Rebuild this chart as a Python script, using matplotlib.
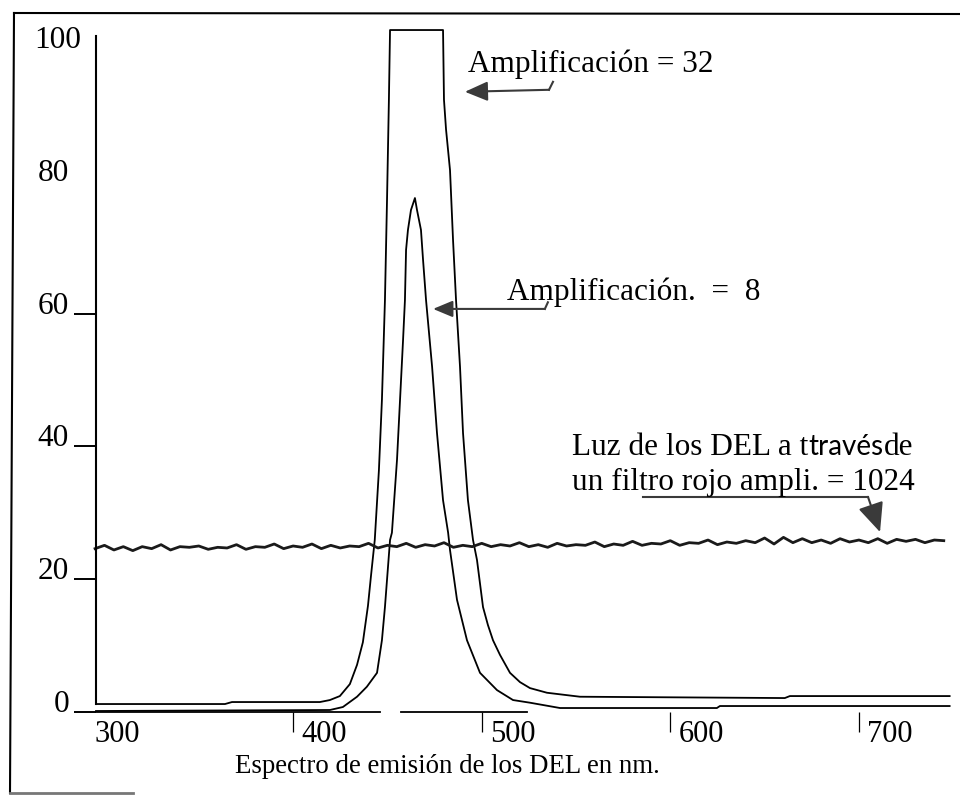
import matplotlib
matplotlib.use("Agg")
import matplotlib.pyplot as plt
from matplotlib.lines import Line2D
from matplotlib.transforms import ScaledTranslation
import numpy as np

# ---------------- data ----------------
wl_amp32 = [295.5, 363.9, 367.6, 414.2, 419.5, 424.8, 430.1, 433.9, 437.0, 439.7,
            441.3, 443.3, 445.5, 447.1, 448.7, 449.8, 450.8, 451.4, 479.5, 480.0,
            481.1, 483.2, 484.8, 486.4, 488.5, 490.1, 492.7, 495.4, 497.5, 500.7,
            503.3, 506.0, 509.7, 515.0, 520.3, 525.6, 534.6, 552.1, 660.7, 663.4, 748.1]
val_amp32 = [1.2, 1.2, 1.5, 1.5, 1.8, 2.4, 4.2, 7.1, 10.5, 16.0,
             20.5, 25.9, 36.4, 47.0, 62.0, 77.1, 92.2, 102.7, 102.7, 92.2,
             87.7, 81.6, 71.1, 62.0, 52.0, 42.0, 31.9, 25.9, 22.9, 15.8,
             13.1, 10.8, 8.6, 5.9, 4.5, 3.6, 2.9, 2.3, 2.1, 2.4, 2.4]

wl_amp8 = [295.5, 419.5, 426.4, 433.9, 439.1, 444.5, 447.1, 448.7, 451.4, 452.4,
           455.1, 456.7, 458.3, 459.3, 459.9, 460.9, 462.5, 464.6, 465.7, 467.8,
           468.9, 470.5, 473.7, 476.3, 479.5, 482.2, 483.2, 486.9, 492.2, 499.1,
           508.1, 516.6, 525.6, 541.5, 624.7, 626.3, 748.1]
val_amp8 = [0.15, 0.3, 0.75, 2.3, 3.8, 5.9, 10.8, 15.8, 25.9, 27.0,
            38.0, 47.0, 56.0, 62.0, 69.6, 72.6, 75.6, 77.4, 75.6, 72.6,
            68.1, 62.0, 52.0, 42.0, 31.9, 27.0, 24.4, 16.9, 10.8, 5.9,
            3.3, 1.8, 1.4, 0.6, 0.6, 0.9, 0.9]

wl_red = np.arange(295, 746, 5)
val_red = [24.6, 25.1, 24.4, 24.9, 24.3, 24.9, 24.6, 25.2, 24.4, 24.9,
           24.8, 25.0, 24.5, 24.8, 24.7, 25.2, 24.5, 24.9, 24.8, 25.3,
           24.6, 25.0, 24.8, 25.3, 24.6, 25.1, 24.7, 25.0, 24.9, 25.4,
           24.7, 25.1, 24.9, 25.4, 24.8, 25.2, 25.0, 25.5, 24.8, 25.1,
           24.9, 25.4, 24.9, 25.2, 25.0, 25.5, 24.9, 25.2, 24.8, 25.4,
           25.0, 25.2, 25.1, 25.6, 24.9, 25.3, 25.1, 25.7, 25.1, 25.4,
           25.3, 25.8, 25.1, 25.5, 25.4, 25.9, 25.2, 25.6, 25.4, 25.8,
           25.5, 26.2, 25.3, 26.3, 25.5, 26.1, 25.5, 25.9, 25.4, 26.1,
           25.6, 25.9, 25.5, 26.1, 25.4, 26.0, 25.7, 26.0, 25.5, 25.9,
           25.8]

xticks = [300, 400, 500, 600, 700]
xtick_labels = ["300", "400", "500", "600", "700"]
yticks = [0, 20, 40, 60, 80, 100]
ytick_labels = ["0", "20", "40", "60", "80", "100"]

label_amp32 = "Amplificación = 32"
label_amp8 = "Amplificación.  =  8"
label_red_1a = "Luz de los DEL a t"
label_red_1b = "través"
label_red_1c = "de"
label_red_2 = "un filtro rojo ampli. = 1024"
xlabel = "Espectro de emisión de los DEL en nm."

# ---------------- figure ----------------
SERIF = ["Liberation Serif", "DejaVu Serif"]
W, H = 960, 795
fig = plt.figure(figsize=(W / 100, H / 100), dpi=100)
fig.patch.set_facecolor("white")

ax = fig.add_axes([96 / W, (H - 712) / H, (W - 96) / W, 690.6 / H])
ax.set_xlim(295.5, 753.6)
ax.set_ylim(0, 104)
ax.set_facecolor("none")
for s in ["top", "right", "bottom"]:
    ax.spines[s].set_visible(False)
ax.spines["left"].set_bounds(1.2, 101.8)
ax.spines["left"].set_linewidth(1.5)

# curves
ax.plot(wl_amp32, val_amp32, color="black", lw=1.3, clip_on=False)
ax.plot(wl_amp8, val_amp8, color="black", lw=1.3, clip_on=False)
ax.plot(wl_red, val_red, color="#1a1a1a", lw=2.0, clip_on=False)

# x axis line (drawn in two pieces as in the original)
ax.plot([295.5, 446.0], [0, 0], color="black", lw=1.3, clip_on=False)
ax.plot([457.0, 524.0], [0, 0], color="black", lw=1.3, clip_on=False)

# y ticks
ax.set_yticks(yticks)
ax.set_yticklabels(ytick_labels, fontsize=22.5, family=SERIF)
ax.tick_params(axis="y", direction="out", length=15.8, width=1.4, pad=3.6)
for lab in ax.get_yticklabels():
    lab.set_va("baseline")
yt = ax.yaxis.get_major_ticks()
yt[4].tick1line.set_visible(False)
yt[5].tick1line.set_visible(False)
lab100 = ax.get_yticklabels()[5]
lab100.set_transform(lab100.get_transform() + ScaledTranslation(12 / 100, 0, fig.dpi_scale_trans))

# x ticks
ax.set_xticks(xticks)
ax.set_xticklabels(xtick_labels, fontsize=22, family=SERIF)
ax.tick_params(axis="x", direction="out", length=14.4, width=0.9, pad=-8.6)
xt = ax.xaxis.get_major_ticks()
xt[0].tick1line.set_visible(False)
for i, lab in enumerate(ax.get_xticklabels()):
    lab.set_ha("left")
    dx = -10 if i == 0 else 8
    lab.set_transform(lab.get_transform() + ScaledTranslation(dx / 100, 0, fig.dpi_scale_trans))

# annotations
ARROW_C = "#3a3a3a"
TXT = dict(fontsize=22.5, family=SERIF, va="baseline", ha="left", color="black")

ax.text(492.7, 96.4, label_amp32, **TXT)
ax.annotate("", xy=(491.1, 93.4), xytext=(535.7, 93.7),
            arrowprops=dict(arrowstyle="-|>,head_length=0.7,head_width=0.3",
                            color=ARROW_C, lw=1.5, mutation_scale=20,
                            shrinkA=0, shrinkB=0))
ax.plot([535.7, 537.8], [93.7, 94.9], color=ARROW_C, lw=1.5)

ax.text(513.4, 62.0, label_amp8, **TXT)
ax.annotate("", xy=(474.2, 60.7), xytext=(533.5, 60.7),
            arrowprops=dict(arrowstyle="-|>,head_length=0.6,head_width=0.25",
                            color=ARROW_C, lw=1.5, mutation_scale=20,
                            shrinkA=0, shrinkB=0))
ax.plot([533.5, 535.1], [60.7, 61.7], color=ARROW_C, lw=1.5)

# red filter label, with the word "través" in a different typeface
t1 = ax.text(547.9, 38.7, label_red_1a, **TXT)
renderer = fig.canvas.get_renderer()
x1 = ax.transData.inverted().transform((t1.get_window_extent(renderer).x1, 0))[0]
t2 = ax.text(x1, 38.7, label_red_1b, fontsize=20, family=["Lato", "DejaVu Sans"],
             va="baseline", ha="left", color="black")
x2 = ax.transData.inverted().transform((t2.get_window_extent(renderer).x1, 0))[0]
ax.text(x2, 38.7, label_red_1c, **TXT)
ax.text(547.9, 33.4, label_red_2, **TXT)

ax.plot([585.5, 704.8], [32.4, 32.4], color=ARROW_C, lw=1.5)
ax.annotate("", xy=(711.2, 27.1), xytext=(704.8, 32.4),
            arrowprops=dict(arrowstyle="-|>,head_length=0.9,head_width=0.4",
                            color=ARROW_C, lw=1.5, mutation_scale=20,
                            shrinkA=0, shrinkB=0))

# x label
fig.text(447 / W, 1 - 773 / H, xlabel, fontsize=19.4, family=SERIF,
         ha="center", va="baseline")

# outer frame (top, left, and a short bottom piece)
fig.add_artist(Line2D([14 / W, 1.0], [1 - 13 / H, 1 - 14 / H], color="black", lw=1.5))
fig.add_artist(Line2D([14 / W, 10 / W], [1 - 13 / H, 1 - 793 / H], color="black", lw=1.5))
fig.add_artist(Line2D([10 / W, 133 / W], [1 - 793 / H, 1 - 793 / H], color="#777777", lw=2.0))

fig.savefig("out.png", dpi=100, facecolor="white")
